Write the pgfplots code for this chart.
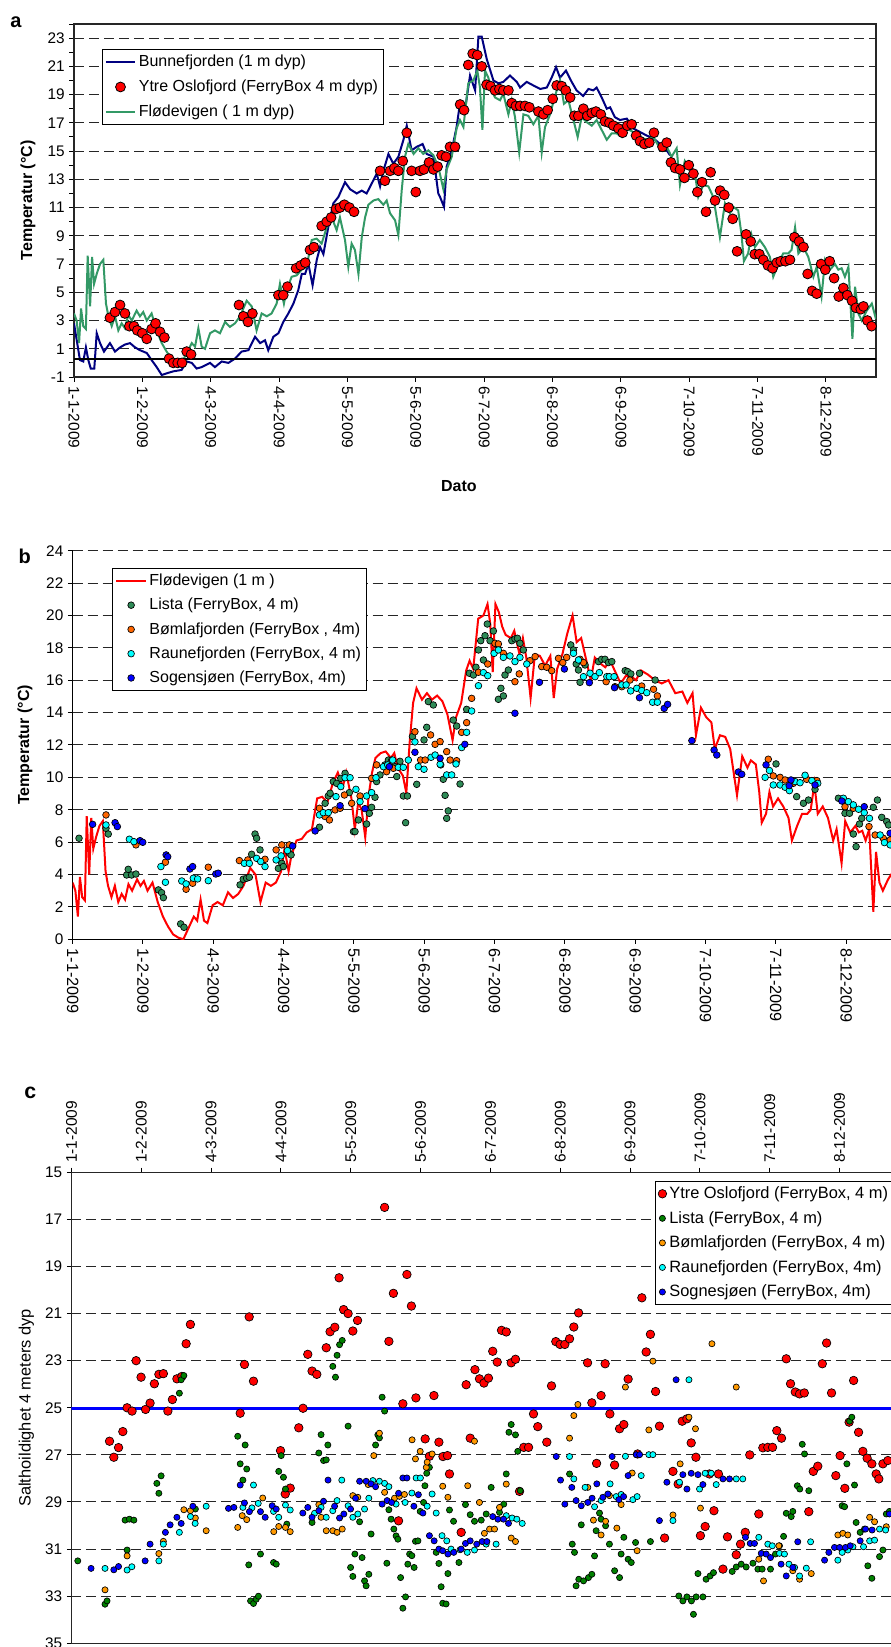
\documentclass[border=0pt]{standalone}
\usepackage{pgfplots}
\pgfplotsset{compat=1.18}
\usepackage{pgfplotstable}
\usepackage{fontspec}
\setmainfont{Liberation Sans}
\definecolor{navyA}{RGB}{0,0,128}
\definecolor{seaA}{RGB}{51,153,102}
\definecolor{listaB}{RGB}{46,139,87}
\definecolor{bomB}{RGB}{255,102,0}
\definecolor{listaC}{RGB}{0,128,0}
\definecolor{bomC}{RGB}{255,153,0}
\definecolor{cyanX}{RGB}{0,255,255}
\definecolor{blueX}{RGB}{0,0,255}
\definecolor{redX}{RGB}{255,0,0}

\pgfplotstableread{
x y
0 2.8
2.7 0.2
4.2 0.1
5.4 1.1
6.5 0.2
7.6 -0.4
9.2 -0.4
10.3 2.1
11.8 1.4
13.6 0.8
16.3 1.4
18.6 0.8
20.9 1.1
23.1 1.3
25.4 1.4
27.7 1.1
29.9 0.9
33.0 0.7
35.2 0.2
37.5 -0.3
39.8 -0.86
42.0 -0.74
45.0 -0.6
48.8 -0.5
51.1 0.1
53.4 0.0
55.6 -0.4
57.9 -0.3
61.7 0.0
63.9 -0.3
67.0 0.1
70.0 0.0
73.0 0.3
76.0 0.8
79.1 0.9
82.1 1.85
84.4 1.4
86.6 1.6
88.1 0.9
90.4 1.85
92.7 2.1
94.9 2.9
97.2 3.5
99.5 4.2
101.7 5.15
103.3 6.3
104.8 6.3
106.3 7.0
108.2 5.5
110.1 7.3
111.6 8.2
113.1 7.7
115.3 9.6
117.6 11.3
119.9 11.75
122.9 12.8
125.2 12.3
128.2 12.0
130.5 12.2
132.7 12.0
135.0 12.7
137.3 13.4
138.8 12.5
140.3 13.6
142.6 14.8
144.8 14.1
147.1 14.6
149.4 15.8
150.9 16.8
153.1 15.05
155.4 15.3
158.1 15.5
159.9 14.8
163.0 14.6
165.2 12.0
166.0 11.75
167.8 11.05
169.0 13.9
171.3 15.05
173.5 16.7
175.0 18.35
177.3 17.9
179.6 20.35
181.9 19.3
183.4 23.1
184.9 23.1
187.2 21.5
190.2 20.0
192.5 19.8
194.7 19.9
197.7 20.35
200.8 19.9
202.3 19.5
205.3 19.9
208.3 19.65
211.4 19.4
214.4 19.5
216.6 20.2
218.6 20.95
220.4 20.2
223.1 20.7
225.7 19.9
227.9 19.3
230.9 18.9
233.3 19.4
235.5 19.3
237.0 19.5
239.3 18.8
241.6 18.0
243.1 18.1
245.3 17.4
247.6 17.2
250.7 17.3
253.7 16.6
256.7 16.35
259.7 16.1
262.8 15.9
265.8 15.5
268.8 15.05
270.3 14.7
}\bunne

\pgfplotstableread{
x y
0 3.5
1.2 3.0
2.3 1.4
3.2 3.85
4.2 2.6
5.4 2.4
6.2 7.6
7.3 4.0
8.2 7.5
9.1 5.6
10.3 6.3
11.8 7.0
13.3 7.3
14.5 4.2
15.6 3.3
17.1 2.6
18.6 3.3
20.1 2.3
21.6 2.8
23.1 2.45
24.6 3.4
26.2 3.0
28.4 3.7
29.9 3.3
31.4 3.6
33.0 3.0
35.2 3.5
37.5 2.3
39.8 1.4
42.0 0.8
44.3 0.3
46.6 0.1
48.8 0.0
51.1 0.7
53.4 1.4
54.9 1.15
56.4 2.45
57.9 1.15
59.4 1.0
61.7 2.1
63.9 2.3
66.2 2.1
68.5 2.9
70.7 2.55
73.0 2.8
75.3 3.3
78.3 4.4
80.6 4.0
82.8 2.3
85.1 3.5
87.4 3.3
89.6 3.5
91.9 4.2
93.4 5.6
95.2 4.2
96.4 5.15
98.7 6.1
101.0 6.2
103.2 6.6
105.5 6.8
107.8 8.7
110.0 8.8
112.3 8.45
114.6 9.6
116.9 10.3
119.1 9.4
120.6 10.3
122.9 8.7
124.4 6.8
125.9 8.45
127.4 8.0
129.0 6.3
130.5 8.9
132.0 10.3
133.5 11.2
135.8 11.5
138.0 11.6
140.3 11.2
141.8 11.5
143.3 10.6
145.6 10.1
147.1 9.05
148.6 12.2
150.1 14.6
151.6 15.5
154.0 14.8
156.2 15.2
158.4 14.8
160.7 15.05
163.0 14.7
165.2 13.9
167.5 12.3
169.0 13.7
171.3 14.6
173.5 16.6
175.0 17.2
176.6 16.7
178.8 19.8
181.1 20.0
182.9 20.7
184.1 19.5
185.2 16.5
186.4 20.7
187.9 20.2
189.4 19.3
190.9 18.8
193.2 18.6
194.7 19.05
197.0 17.6
198.5 18.6
200.0 17.4
201.9 14.9
203.8 17.6
206.0 17.5
208.3 16.9
210.6 17.5
212.1 14.9
213.6 16.7
215.9 17.6
218.1 18.9
220.4 20.0
222.2 18.35
224.2 18.6
226.5 17.2
228.4 16.0
230.2 17.4
232.5 17.05
234.8 16.8
237.0 17.2
239.3 16.5
241.6 15.8
243.8 16.25
246.1 16.25
248.4 16.0
250.6 16.6
253.6 16.35
256.7 16.0
259.7 15.8
262.7 16.0
265.7 15.2
268.8 15.3
271.0 14.6
273.3 15.2
274.8 12.6
277.0 14.3
279.4 13.7
281.6 13.4
283.1 11.75
285.4 12.6
287.7 12.5
289.9 11.75
292.9 8.9
295.2 11.3
297.5 10.6
299.0 11.05
301.2 10.8
302.7 9.1
303.8 7.2
305.7 7.75
307.2 9.1
308.8 8.2
311.0 8.7
313.3 8.2
315.6 7.5
317.1 6.1
319.4 7.0
321.6 7.75
323.9 7.75
325.4 8.0
327.0 9.6
328.5 7.75
330.7 8.2
333.0 7.5
335.3 6.1
336.8 6.8
339.0 4.7
340.6 7.3
342.8 6.6
345.1 7.0
346.6 6.6
348.1 6.7
349.6 6.1
351.2 6.8
353.0 1.7
354.2 5.4
355.7 3.5
357.2 3.0
359.5 3.7
361.8 4.2
363.7 3.1
}\flode

\pgfplotstableread{
x y
16.3 3.2
18.6 3.6
20.9 4.1
23.1 3.5
25.1 2.6
27.2 2.6
28.7 2.3
31.0 2.1
33.0 1.7
35.2 2.4
37.0 2.8
39.0 2.2
41.0 1.8
43.1 0.3
45.0 0.0
47.0 0.0
49.0 0.0
51.1 0.8
53.1 0.6
74.8 4.1
76.8 3.3
78.9 2.9
80.9 3.5
92.7 4.8
94.9 4.8
96.8 5.4
100.7 6.7
102.8 6.9
104.9 7.1
107.0 8.0
108.8 8.2
112.3 9.7
114.6 10.0
116.6 10.3
118.8 10.9
120.6 11.0
122.6 11.2
124.9 11.0
127.0 10.7
138.8 13.6
141.0 12.9
143.3 13.6
145.3 13.8
147.1 13.6
149.1 14.3
150.9 16.3
153.1 13.6
155.0 12.1
156.9 13.6
158.7 13.7
161.0 14.2
163.0 13.7
164.9 13.9
166.7 14.7
168.7 14.6
170.5 15.3
172.8 15.3
175.1 18.3
176.9 17.9
178.8 21.1
180.8 21.9
182.9 21.8
184.9 21.0
187.1 19.7
188.9 19.6
190.9 19.3
192.9 19.4
194.7 19.3
197.0 19.3
198.5 18.4
200.4 18.2
202.3 18.2
204.5 18.2
206.5 18.1
210.6 17.8
212.9 17.6
214.8 17.9
217.1 18.7
218.9 19.65
221.2 19.6
223.0 19.3
225.0 18.8
226.9 17.5
228.7 17.5
231.0 18.0
232.8 17.5
234.8 17.7
236.7 17.8
238.9 17.6
240.8 17.1
242.8 17.0
244.6 16.8
246.9 16.6
248.8 16.3
250.9 16.8
252.9 16.9
254.9 16.1
256.7 15.7
258.7 15.5
260.9 15.6
263.0 16.3
266.9 15.3
268.8 15.6
270.7 14.2
272.6 13.8
274.8 13.7
276.8 13.1
278.8 14.0
280.9 13.4
282.7 12.1
284.8 12.8
286.6 10.7
288.7 13.5
290.7 11.5
293.0 12.2
294.9 11.9
296.9 11.0
298.7 10.2
300.7 7.9
304.8 9.1
306.9 8.6
308.7 7.7
310.8 7.7
312.6 7.3
314.7 6.9
316.8 6.7
318.7 7.1
320.5 7.2
322.6 7.2
324.7 7.3
326.7 8.9
328.8 8.6
330.8 8.2
332.7 6.3
334.7 5.1
336.8 4.9
338.8 7.0
340.7 6.6
342.7 7.2
344.7 6.0
346.8 4.7
348.9 5.3
350.7 4.8
352.8 4.4
354.6 3.9
356.8 3.8
358.0 4.0
359.8 3.0
361.7 2.6
}\ytreA

\pgfplotstableread{
x y
2.8 6.24
14.7 6.85
15.7 6.5
23.8 3.97
24.5 4.32
26.0 3.97
27.9 4.03
37.8 3.05
39.2 2.88
40.0 2.57
47.6 0.95
49.1 0.74
73.8 3.36
75.2 3.71
76.7 3.77
77.9 3.83
78.9 5.25
80.4 6.5
81.1 6.24
82.6 5.52
90.7 4.38
92.2 4.69
92.9 4.49
95.5 5.31
96.3 5.21
108.8 6.92
109.8 7.78
111.3 8.40
112.7 8.85
113.5 9.02
114.9 9.74
116.4 9.63
118.2 9.94
120.1 10.25
122.0 9.06
123.8 6.65
124.5 6.65
126.0 7.37
129.6 7.12
130.8 7.78
131.8 8.15
133.3 8.77
134.0 9.74
135.5 10.15
137.7 10.77
139.2 11.07
140.7 11.07
142.1 10.66
142.9 10.05
144.3 10.99
145.8 8.85
146.8 7.20
147.6 8.85
149.8 12.52
151.7 9.57
154.9 12.31
156.1 13.09
156.8 14.68
159.0 14.47
162.3 10.77
163.4 9.88
164.2 8.89
164.9 7.47
165.6 7.93
167.8 13.54
169.3 13.17
170.8 9.59
173.7 14.20
174.9 16.43
176.7 16.32
177.8 16.80
178.9 17.87
179.9 18.44
181.1 17.25
181.8 18.75
182.8 19.47
184.0 18.44
185.5 19.04
187.7 14.82
188.8 15.50
189.9 15.03
190.6 16.32
192.1 16.63
193.6 18.44
195.0 18.55
196.1 18.59
197.2 18.28
198.7 17.87
219.6 18.18
220.8 17.87
222.0 17.00
223.0 16.63
223.7 15.87
225.9 16.94
231.8 17.15
233.2 17.29
234.7 17.29
236.2 17.09
237.7 17.15
243.6 16.59
244.7 16.53
246.1 16.39
249.9 16.43
256.8 16.01
310.1 10.83
319.2 8.81
322.2 8.40
324.4 8.60
327.3 9.26
337.6 8.71
340.5 7.78
342.5 7.78
344.2 6.50
345.4 5.72
346.9 7.12
347.9 7.47
353.0 8.15
354.8 8.60
356.7 7.53
358.9 7.27
359.7 7.06
}\listaB

\pgfplotstableread{
x y
14.7 7.68
27.9 5.83
40.9 4.76
50.0 3.09
52.9 3.46
59.8 4.45
73.5 4.86
77.2 4.90
84.8 4.94
89.7 5.52
92.2 5.83
95.5 5.83
108.8 8.09
111.3 7.58
113.2 7.37
115.7 7.99
117.9 8.09
119.8 8.91
123.0 8.40
126.7 8.85
131.8 9.94
134.0 10.77
138.4 10.35
141.4 10.56
150.9 12.82
153.4 11.07
155.4 11.07
157.8 12.62
159.8 12.04
162.0 12.21
164.9 11.59
166.4 11.07
169.3 11.03
171.5 12.78
173.7 13.38
175.9 14.88
178.9 16.49
183.0 17.00
186.2 18.28
187.7 18.24
189.9 17.66
195.0 15.91
196.9 16.39
201.6 17.21
203.9 17.46
206.8 16.84
209.0 16.80
211.2 16.59
214.2 17.35
216.1 17.09
217.8 17.41
223.7 17.29
225.2 17.09
235.2 15.91
239.1 15.60
242.1 15.60
245.7 16.01
250.9 15.64
256.1 15.44
257.8 15.03
306.7 11.12
308.9 10.09
311.9 10.00
314.1 9.84
317.7 9.63
323.6 9.88
328.1 9.80
340.5 8.19
344.2 8.09
351.1 6.96
353.8 6.44
357.4 6.24
360.4 6.13
}\bomB

\pgfplotstableread{
x y
14.7 7.06
25.0 6.18
27.0 6.03
38.9 4.49
40.9 3.52
48.1 3.60
50.0 3.42
53.2 3.77
55.1 3.73
59.8 3.62
75.7 4.69
77.9 4.69
81.1 5.00
82.9 4.80
84.8 4.49
89.7 4.90
91.9 5.15
94.7 5.48
108.8 7.68
110.5 7.82
112.7 7.82
116.1 8.81
118.2 9.43
120.1 9.98
122.3 9.98
124.9 9.26
126.7 8.50
129.6 8.85
131.8 9.06
133.7 9.98
137.0 10.66
138.9 10.77
141.1 11.07
143.6 10.62
145.8 10.62
148.0 11.07
150.9 12.19
152.4 10.66
154.9 10.50
158.0 11.24
159.8 11.38
162.0 10.81
164.9 10.15
167.1 10.15
169.0 10.83
171.5 11.84
173.7 12.78
175.9 14.10
178.9 15.66
181.1 16.47
183.0 16.28
185.8 17.66
187.7 17.87
189.9 17.41
192.8 17.50
195.0 17.15
197.2 17.41
200.2 17.00
220.8 17.66
223.0 17.25
225.2 16.22
228.1 16.43
230.3 16.22
232.2 16.47
235.5 16.22
236.6 16.22
238.7 16.22
242.1 15.71
244.0 15.71
246.0 15.34
248.7 15.50
250.9 15.36
253.1 15.23
255.7 14.64
257.8 14.64
305.3 10.00
307.2 10.42
308.9 9.53
311.9 9.53
314.1 9.39
316.0 9.18
318.5 9.74
320.7 9.67
322.9 10.13
325.9 9.80
328.5 9.63
339.8 8.71
342.0 8.50
344.2 8.30
346.5 8.03
349.0 7.82
351.3 7.47
356.0 6.44
357.9 5.97
360.4 5.83
}\rauB

\pgfplotstableread{
x y
8.8 7.10
18.7 7.20
19.7 6.96
29.7 6.09
30.9 5.99
41.2 5.21
41.9 5.10
51.7 4.34
52.9 4.49
63.1 4.03
64.2 4.08
97.0 5.76
106.9 6.69
117.9 8.25
128.9 8.07
139.6 10.66
150.9 11.55
162.0 11.18
172.9 12.04
195.0 13.96
205.8 15.87
216.8 16.69
227.8 15.85
238.9 15.54
249.9 14.92
260.8 14.26
262.3 14.51
273.0 12.27
282.8 11.69
284.0 11.38
293.5 10.33
295.0 10.19
305.7 10.77
315.9 9.49
316.7 9.84
327.3 9.53
339.1 8.54
349.0 8.19
360.4 6.55
}\sogB

\pgfplotstableread{
x y
16.9 26.42
18.8 27.10
20.9 26.69
22.8 26.01
24.7 25.00
26.9 25.14
28.7 23.00
30.9 23.70
32.9 25.07
34.9 24.80
36.8 23.98
38.8 23.58
40.8 23.55
42.8 25.14
44.8 24.65
46.8 23.77
49.0 23.67
50.9 22.28
52.8 21.46
74.9 25.23
76.8 23.16
78.9 21.14
80.8 23.87
92.8 26.82
94.9 28.66
97.1 28.41
100.9 25.85
102.8 25.02
104.9 22.73
106.8 23.44
108.9 23.58
113.1 22.45
114.8 21.77
116.9 21.58
118.8 19.48
120.8 20.83
122.8 21.00
124.9 21.74
127.0 21.29
139.0 16.49
140.9 22.18
142.9 20.14
145.2 29.80
147.1 24.83
148.9 19.34
150.9 20.68
152.9 24.58
157.0 26.32
158.9 27.06
160.9 24.48
163.1 26.46
164.9 27.07
166.9 27.03
167.8 27.81
173.0 30.29
175.2 24.02
177.0 26.29
179.1 23.38
181.1 23.77
183.1 23.95
185.1 23.74
187.0 22.60
189.0 23.06
190.9 21.71
193.0 21.78
195.2 23.09
197.1 22.94
198.9 28.55
200.8 26.68
202.9 26.68
205.1 25.26
207.0 25.80
211.0 26.46
213.1 24.07
215.0 22.19
216.9 22.31
219.0 22.31
221.1 22.07
223.0 21.57
225.1 20.97
229.1 23.09
231.0 24.79
233.1 27.36
235.1 24.48
236.9 23.13
239.0 25.26
241.1 27.43
243.3 25.89
245.2 25.71
247.1 23.78
251.3 26.96
253.2 20.33
255.1 22.63
257.0 21.88
259.3 24.31
261.0 25.78
263.3 30.53
267.0 27.70
269.3 28.24
271.1 25.57
273.2 25.47
275.1 26.49
277.2 27.10
279.2 30.43
281.3 30.04
283.2 27.81
285.2 29.37
287.2 27.81
289.2 31.85
291.2 30.48
295.1 31.24
297.0 30.79
299.1 30.29
301.1 27.00
305.1 29.51
306.9 26.70
309.1 26.68
311.2 26.68
313.1 25.97
315.2 26.29
317.3 22.92
319.2 23.98
321.3 24.33
323.2 24.41
325.3 24.37
327.3 29.41
329.3 27.70
331.3 27.48
333.3 23.13
335.2 22.25
337.4 24.37
339.3 27.88
341.2 27.03
343.3 28.42
345.2 25.61
347.2 23.84
349.4 26.04
351.3 26.85
353.2 27.14
355.3 27.38
357.2 27.81
358.4 28.02
360.2 27.38
362.4 27.24
}\ytreC

\pgfplotstableread{
x y
2.8 31.50
14.9 33.34
15.8 33.20
23.8 29.77
24.7 31.04
25.7 29.73
27.7 29.77
37.9 28.21
38.8 28.63
39.8 27.89
47.9 24.38
48.7 23.81
49.9 23.63
55.0 29.30
73.8 26.21
74.9 27.38
76.1 28.07
77.1 26.58
77.8 27.60
78.7 31.67
79.5 33.20
80.8 33.31
82.0 33.13
83.0 33.00
83.9 31.21
89.7 31.57
90.9 31.64
92.0 27.70
93.1 27.03
94.1 27.95
95.0 28.45
95.6 29.94
106.8 29.87
109.8 26.92
110.8 26.14
111.9 27.24
113.1 27.21
113.8 26.58
116.0 23.24
117.2 23.70
117.9 22.77
119.0 22.32
120.2 22.14
122.8 25.78
123.9 31.78
124.9 32.16
125.8 31.21
127.9 29.84
129.0 31.36
130.1 32.35
130.8 32.56
132.0 32.07
133.0 30.36
135.0 26.58
136.0 26.15
136.7 26.28
137.9 24.55
139.0 25.14
140.0 31.60
140.9 29.33
141.9 29.73
143.1 30.15
144.1 30.44
144.9 30.58
146.1 32.21
147.1 33.51
148.3 33.03
149.3 31.64
150.1 31.21
151.1 31.28
152.1 31.78
152.7 30.67
153.8 30.65
154.8 29.40
156.3 29.02
156.9 28.31
157.7 27.78
158.9 27.53
161.9 31.14
163.1 31.61
164.1 32.60
164.8 33.30
166.3 33.33
167.1 32.04
167.8 29.34
169.6 29.82
172.0 31.57
174.9 29.11
177.0 29.54
178.9 29.82
181.9 29.77
184.1 29.51
186.3 28.38
190.0 29.44
191.9 29.09
193.0 27.81
194.2 26.04
195.2 25.71
197.1 26.15
198.1 26.85
199.2 28.52
221.1 27.81
222.3 30.79
223.3 31.14
224.0 32.56
225.2 32.28
226.3 29.97
227.3 32.35
229.5 32.21
231.0 32.07
232.2 31.29
232.9 30.22
234.4 29.47
235.1 29.73
237.1 30.01
238.8 30.79
241.1 31.92
243.3 32.21
244.0 31.21
245.2 30.50
247.1 31.43
248.5 31.57
250.4 30.72
257.0 30.68
269.6 32.99
271.4 33.20
273.2 33.03
275.2 33.20
276.1 33.77
277.3 33.03
278.1 32.04
280.3 33.03
281.7 32.28
283.5 32.14
285.0 32.00
293.3 31.95
295.1 31.76
297.3 31.64
299.5 31.76
302.5 31.60
304.7 31.85
306.6 31.85
310.3 31.85
312.5 31.21
314.3 30.86
316.1 30.46
317.3 29.48
319.5 29.62
320.2 29.40
322.2 28.31
323.3 28.45
324.4 26.55
325.4 26.96
327.3 28.52
342.1 29.16
343.2 29.20
344.2 27.38
345.4 25.57
346.4 25.40
347.6 28.28
348.3 29.87
350.1 30.29
352.0 30.15
353.5 31.71
355.3 32.24
358.7 31.32
360.2 31.04
361.7 29.51
363.1 29.40
}\listaC

\pgfplotstableread{
x y
14.9 32.73
24.7 31.29
38.8 31.19
40.8 30.67
49.9 29.33
52.8 29.37
55.0 29.68
59.8 30.22
73.8 30.08
75.8 29.58
77.8 29.75
84.9 28.83
89.8 30.26
92.0 30.04
95.0 30.08
97.1 30.26
109.8 29.11
110.8 29.65
113.1 30.22
116.0 30.22
117.9 30.29
120.2 30.15
124.9 28.73
127.1 28.80
131.7 28.26
134.2 27.03
136.7 26.08
139.0 28.59
143.4 28.84
145.6 28.76
147.8 28.68
151.2 26.36
152.7 27.17
154.8 26.85
157.5 27.53
157.9 27.31
160.1 26.96
164.8 28.33
167.1 28.80
175.9 28.31
178.9 26.42
181.1 29.02
183.3 30.33
185.6 30.15
187.8 30.15
190.0 29.23
193.0 28.24
195.2 30.53
197.1 30.68
221.1 26.29
223.0 25.33
224.8 24.86
229.2 28.38
231.7 29.77
235.1 30.40
237.1 29.82
238.8 28.73
242.1 30.11
244.0 29.11
245.9 24.12
248.9 27.77
251.1 31.07
256.3 25.94
258.1 23.02
267.0 29.55
270.2 27.38
274.1 25.40
277.0 25.89
279.2 29.26
284.3 22.28
295.1 24.12
305.1 31.43
307.2 32.35
314.0 30.86
320.2 31.92
323.2 32.28
328.4 32.04
340.2 30.40
342.4 30.33
344.6 30.40
354.3 29.65
356.5 29.84
361.7 30.05
}\bomC

\pgfplotstableread{
x y
14.9 31.82
24.7 31.89
26.8 31.75
38.8 31.50
40.8 30.79
47.9 30.29
52.8 29.62
54.9 29.91
59.8 29.18
76.1 29.23
80.1 29.25
80.8 28.28
82.9 29.06
89.7 29.40
92.0 29.65
95.0 29.13
97.1 29.34
107.9 29.48
110.8 29.23
113.1 29.65
116.0 29.37
117.9 28.94
120.0 28.07
122.8 29.16
124.9 29.65
127.1 29.51
130.1 29.30
132.0 28.84
133.8 28.09
136.7 28.12
139.0 28.21
140.9 28.35
144.1 29.09
148.1 29.02
151.1 28.62
153.0 27.98
154.9 27.98
157.9 29.18
160.1 28.66
161.9 29.47
164.5 30.43
166.6 30.65
168.5 31.00
172.5 31.03
175.7 31.14
178.9 31.04
184.1 30.79
188.5 30.79
193.0 29.58
195.6 29.68
197.7 29.73
200.1 29.91
221.1 27.07
223.0 28.02
228.0 28.38
232.2 29.20
235.1 28.94
239.1 28.23
241.8 28.77
244.0 28.68
245.9 27.06
249.2 28.90
251.1 28.77
252.9 27.88
256.3 26.99
258.1 26.99
267.0 29.79
269.9 28.16
274.1 23.81
278.8 28.45
281.3 27.78
284.0 27.78
286.2 28.26
295.1 28.02
298.0 28.02
305.1 30.50
309.1 30.79
311.1 30.86
314.3 31.18
316.5 31.21
318.5 31.64
321.0 31.78
323.2 32.14
326.2 31.81
328.1 30.69
340.2 31.47
342.1 31.14
344.6 31.04
346.9 30.90
351.6 30.90
354.3 30.65
356.5 30.62
358.7 30.15
361.4 30.19
}\rauC

\pgfplotstableread{
x y
8.7 31.82
18.8 31.88
20.9 31.74
32.7 31.50
34.9 30.79
41.7 30.29
43.8 29.97
46.8 29.65
48.7 29.91
53.9 29.18
69.7 29.27
72.1 29.23
74.9 28.28
76.8 29.04
79.0 29.41
83.9 29.41
86.0 29.65
89.1 29.16
90.9 29.30
102.7 29.47
104.9 29.23
106.8 29.65
109.8 29.37
111.9 28.97
113.9 28.07
116.8 29.18
119.0 29.68
120.9 29.51
123.9 29.30
126.1 28.84
127.9 28.12
130.8 28.12
133.0 28.23
135.0 28.35
137.9 29.09
140.1 28.94
142.1 29.02
145.2 28.63
147.1 27.98
148.9 27.98
152.0 29.18
154.0 28.69
156.0 29.47
158.9 30.43
161.0 30.65
163.1 31.00
164.8 31.07
167.1 31.21
169.7 31.14
173.0 31.00
174.9 30.76
177.0 30.65
179.9 30.79
182.3 30.68
184.4 30.68
187.0 29.62
189.3 29.73
191.8 29.73
194.0 29.91
215.2 27.07
217.1 28.07
219.0 29.09
222.1 28.38
224.0 28.94
226.3 29.16
229.2 29.02
231.1 28.84
233.2 28.23
235.9 28.80
238.1 28.66
240.0 27.07
243.0 28.90
245.1 28.77
247.1 27.88
250.7 26.99
252.2 26.99
261.0 29.79
264.3 28.16
268.4 23.81
271.4 27.84
273.2 28.45
275.1 27.78
278.1 27.84
280.3 28.26
289.2 28.02
292.1 28.02
299.2 30.50
301.3 30.76
303.2 30.76
306.2 31.18
308.4 31.21
310.3 31.36
315.0 31.64
317.3 32.14
320.2 31.78
322.4 30.69
334.3 31.47
336.2 31.14
338.7 30.93
341.0 30.93
343.6 30.93
345.7 30.86
350.1 30.65
352.5 30.15
355.4 30.19
363.1 29.51
}\sogC

\pgfplotsset{
  base/.style={
    scale only axis, anchor=north west,
    /pgf/number format/assume math mode=true,
    tick label style={font=\fontsize{11.5}{13}\selectfont},
    tick align=outside, major tick length=3.5pt, minor tick length=3.5pt,
    tick style={black, line width=0.75pt},
    ymajorgrids, major grid style={black!85, line width=0.75pt, dash pattern=on 7.5pt off 3.75pt},
    legend cell align=left,
    xtick={0,31,62,93,124,155,186,217,248,279,310,341},
    xticklabels={1-1-2009,1-2-2009,4-3-2009,4-4-2009,5-5-2009,5-6-2009,6-7-2009,6-8-2009,6-9-2009,7-10-2009,7-11-2009,8-12-2009},
  },
}

\begin{document}
\begin{tikzpicture}
\useasboundingbox (0,0) rectangle (668.25pt,-1235.25pt);
\clip (0,0) rectangle (668.25pt,-1235.25pt);

\node[anchor=base west, inner sep=0pt, font=\bfseries\fontsize{15}{17}\selectfont] at (7.5pt,-20.25pt) {a};
\node[anchor=base west, inner sep=0pt, font=\bfseries\fontsize{15}{17}\selectfont] at (13.7pt,-422.5pt) {b};
\node[anchor=base west, inner sep=0pt, font=\bfseries\fontsize{16}{18}\selectfont] at (18pt,-823.7pt) {c};

% ---------------- panel a
\begin{axis}[base,
  at={(55.5pt,-18pt)}, width=601.5pt, height=264.75pt,
  xmin=0, xmax=363.7, ymin=-1, ymax=24,
  ytick={-1,1,...,23}, minor ytick={0,2,...,24},
  xtick pos=left, ytick pos=left,
  axis line style={black!85, line width=1pt},
  xticklabel style={rotate=-90, anchor=west, font=\fontsize{11.6}{13}\selectfont},
  ylabel={Temperatur (°C)},
  ylabel style={font=\bfseries\fontsize{12}{14}\selectfont, at={(axis description cs:-0.0574,0.5)}, anchor=center},
  xlabel={Dato},
  xlabel style={font=\bfseries\fontsize{12}{14}\selectfont, at={(axis description cs:0.48,-0.309)}, anchor=center},
  legend style={at={(0.0345,0.928)}, anchor=north west, draw=black, line width=0.75pt,
    font=\fontsize{12}{14}\selectfont, row sep=4.5pt, inner sep=2pt},
  legend image code/.code={\draw[mark repeat=2,mark phase=2,#1] plot coordinates {(0pt,0pt) (11pt,0pt) (22pt,0pt)};},
]
\addplot[navyA, line width=1.5pt, forget plot] table {\bunne};
\addplot[seaA, line width=1.5pt, forget plot] table {\flode};
\addplot[black, line width=1.5pt, forget plot] coordinates {(0,0.25) (363.7,0.25)};
\addplot[only marks, mark=*, mark size=3.7pt, mark options={fill=redX, draw=black, line width=0.6pt}, forget plot] table {\ytreA};
\addlegendimage{navyA, line width=1.5pt}
\addlegendentry{Bunnefjorden (1 m dyp)}
\addlegendimage{only marks, mark=*, mark size=3.7pt, mark options={fill=redX, draw=black, line width=0.6pt}}
\addlegendentry{Ytre Oslofjord (FerryBox 4 m dyp)}
\addlegendimage{seaA, line width=1.5pt}
\addlegendentry{Flødevigen ( 1 m dyp)}
\end{axis}

% ---------------- panel b
\begin{axis}[base,
  at={(54.5pt,-413pt)}, width=619.2pt, height=291.45pt,
  xmin=0, xmax=364, ymin=0, ymax=24, ytick={0,2,...,24},
  axis x line*=bottom, axis y line*=left,
  axis line style={black, line width=1pt, -},
  xticklabel style={rotate=-90, anchor=west, font=\fontsize{12.2}{14}\selectfont},
  ylabel={Temperatur (°C)},
  ylabel style={font=\bfseries\fontsize{12}{14}\selectfont, at={(axis description cs:-0.0578,0.5)}, anchor=center},
  legend style={at={(0.048,0.9547)}, anchor=north west, draw=black, line width=0.75pt,
    font=\fontsize{12}{14}\selectfont, row sep=4pt, inner sep=2pt},
  legend image code/.code={\draw[mark repeat=2,mark phase=2,#1] plot coordinates {(0pt,0pt) (11pt,0pt) (22pt,0pt)};},
]
\addplot[redX, line width=1.5pt] table {\flode};
\addlegendentry{Flødevigen (1 m )}
\addplot[only marks, mark=*, mark size=2.5pt, mark options={fill=listaB, draw=black, line width=0.5pt}] table {\listaB};
\addlegendentry{Lista (FerryBox, 4 m)}
\addplot[only marks, mark=*, mark size=2.5pt, mark options={fill=bomB, draw=black, line width=0.5pt}] table {\bomB};
\addlegendentry{Bømlafjorden (FerryBox , 4m)}
\addplot[only marks, mark=*, mark size=2.5pt, mark options={fill=cyanX, draw=black, line width=0.5pt}] table {\rauB};
\addlegendentry{Raunefjorden (FerryBox, 4 m)}
\addplot[only marks, mark=*, mark size=2.5pt, mark options={fill=blueX, draw=black, line width=0.5pt}] table {\sogB};
\addlegendentry{Sogensjøen (FerryBox, 4m)}
\end{axis}

% ---------------- panel c
\begin{axis}[base,
  at={(53.6pt,-879.2pt)}, width=615pt, height=353.25pt,
  xmin=0, xmax=364, ymin=15, ymax=35, y dir=reverse, ytick={15,17,...,35},
  xtick pos=right, xticklabel pos=right, ytick pos=left,
  axis line style={black!85, line width=1pt},
  xticklabel style={rotate=90, anchor=west, font=\fontsize{11.6}{13}\selectfont},
  ylabel={Salthoildighet 4 meters dyp},
  ylabel style={font=\fontsize{12.3}{14}\selectfont, at={(axis description cs:-0.0549,0.5)}, anchor=center},
  legend style={at={(0.7116,0.9815)}, anchor=north west, draw=black, line width=0.75pt,
    font=\fontsize{12.3}{14}\selectfont, row sep=4pt, inner sep=2pt},
  legend image code/.code={\draw[#1] plot coordinates {(0pt,0pt)};},
]
\addplot[blueX, line width=2.2pt, forget plot] coordinates {(0,25.03) (364,25.03)};
\addplot[only marks, mark=*, mark size=3.2pt, mark options={fill=redX, draw=black, line width=0.5pt}] table {\ytreC};
\addlegendentry{Ytre Oslofjord (FerryBox, 4 m)}
\addplot[only marks, mark=*, mark size=2.3pt, mark options={fill=listaC, draw=black, line width=0.5pt}] table {\listaC};
\addlegendentry{Lista (FerryBox, 4 m)}
\addplot[only marks, mark=*, mark size=2.3pt, mark options={fill=bomC, draw=black, line width=0.5pt}] table {\bomC};
\addlegendentry{Bømlafjorden (FerryBox, 4 m)}
\addplot[only marks, mark=*, mark size=2.3pt, mark options={fill=cyanX, draw=black, line width=0.5pt}] table {\rauC};
\addlegendentry{Raunefjorden (FerryBox, 4m)}
\addplot[only marks, mark=*, mark size=2.3pt, mark options={fill=blueX, draw=black, line width=0.5pt}] table {\sogC};
\addlegendentry{Sognesjøen (FerryBox, 4m)}
\end{axis}
\end{tikzpicture}
\end{document}
